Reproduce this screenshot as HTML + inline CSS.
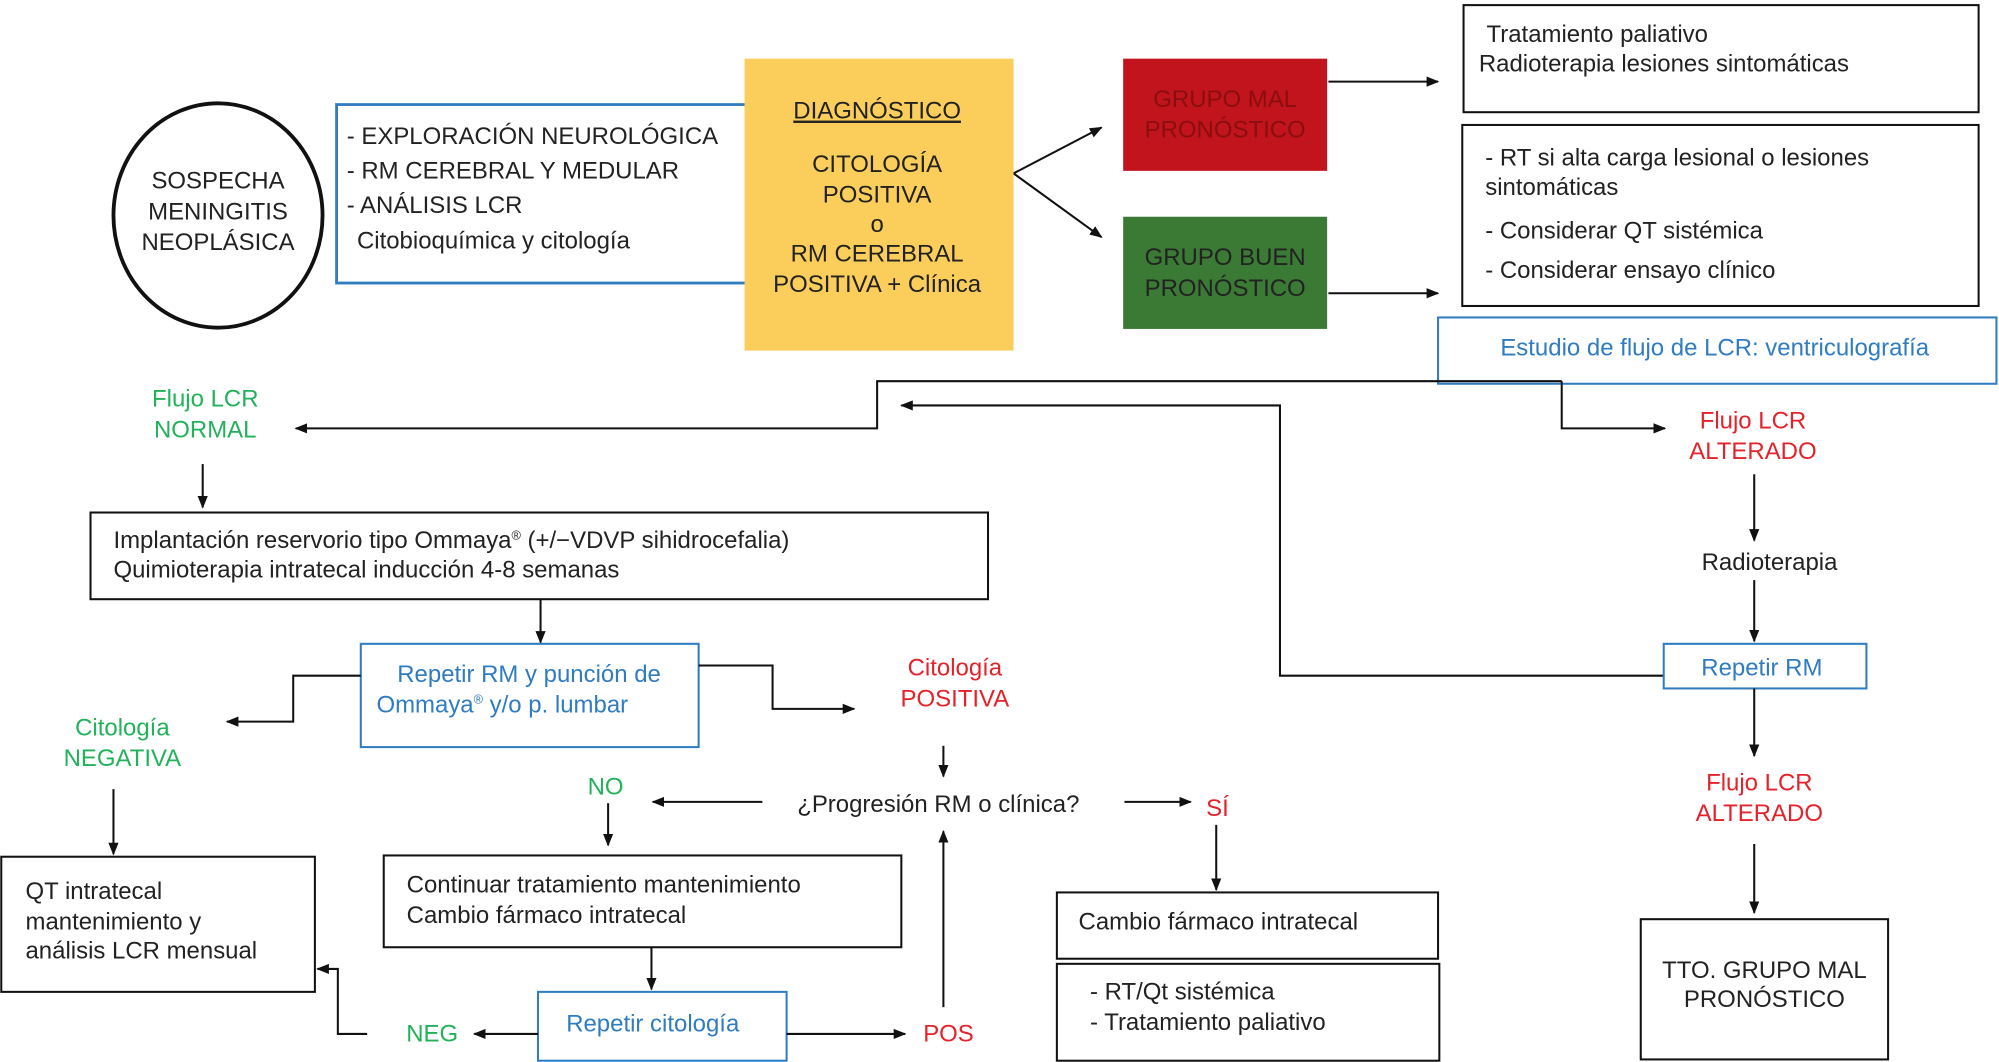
<!DOCTYPE html>
<html><head><meta charset="utf-8"><style>
html,body{margin:0;padding:0;background:#fff;}
svg{display:block;}
text{font-family:"Liberation Sans",sans-serif;font-size:18.8px;fill:#222;}
.b{fill:#2f7cc1}.g{fill:#22b25a}.r{fill:#e5222a}
</style></head><body>
<svg width="1999" height="1062" viewBox="0 0 1568 833" xmlns="http://www.w3.org/2000/svg">
<defs><marker id="a" markerWidth="10" markerHeight="10" refX="9" refY="5" orient="auto" markerUnits="userSpaceOnUse"><path d="M0,1 L10,5 L0,9 z" fill="#111"/></marker></defs>
<g fill="none" stroke="#111" stroke-width="1.6">
<ellipse cx="171" cy="169" rx="82" ry="88" stroke-width="3"/>
<rect x="264" y="82" width="322" height="140" stroke="#2f7cc1" stroke-width="2.2"/>
<rect x="1148" y="4" width="404" height="84"/>
<rect x="1147" y="98" width="405" height="142"/>
<rect x="1128" y="249" width="438" height="52" stroke="#2f7cc1"/>
<path d="M795,136 L864,100" marker-end="url(#a)"/>
<path d="M795,136 L864,186" marker-end="url(#a)"/>
<path d="M1042,64 L1128,64" marker-end="url(#a)"/>
<path d="M1042,230 L1128,230" marker-end="url(#a)"/>
<path d="M1225,299 L688,299 L688,336 L232,336" marker-end="url(#a)"/>
<path d="M1225,299 L1225,336 L1306,336" marker-end="url(#a)"/>
<path d="M1305,530 L1004,530 L1004,318 L707,318" marker-end="url(#a)"/>
<path d="M159,364 L159,398" marker-end="url(#a)"/>
<rect x="71" y="402" width="704" height="68"/>
<path d="M424,470 L424,504" marker-end="url(#a)"/>
<rect x="283" y="505" width="265" height="81" stroke="#2f7cc1"/>
<path d="M283,530 L230,530 L230,566 L178,566" marker-end="url(#a)"/>
<path d="M548,522 L606,522 L606,556 L670,556" marker-end="url(#a)"/>
<path d="M89,619 L89,670" marker-end="url(#a)"/>
<rect x="1" y="672" width="246" height="106"/>
<path d="M740,585 L740,609" marker-end="url(#a)"/>
<path d="M598,629 L512,629" marker-end="url(#a)"/>
<path d="M882,629 L934,629" marker-end="url(#a)"/>
<path d="M477,630 L477,663" marker-end="url(#a)"/>
<rect x="301" y="671" width="406" height="72"/>
<path d="M511,743 L511,776" marker-end="url(#a)"/>
<rect x="422" y="778" width="195" height="54" stroke="#2f7cc1"/>
<path d="M422,811 L372,811" marker-end="url(#a)"/>
<path d="M617,811 L710,811" marker-end="url(#a)"/>
<path d="M740,790 L740,652" marker-end="url(#a)"/>
<path d="M288,811 L265,811 L265,760 L249,760" marker-end="url(#a)"/>
<path d="M954,647 L954,698" marker-end="url(#a)"/>
<rect x="829" y="700" width="299" height="52"/>
<rect x="829" y="756" width="300" height="76"/>
<path d="M1376,372 L1376,424" marker-end="url(#a)"/>
<path d="M1376,455 L1376,503" marker-end="url(#a)"/>
<rect x="1305" y="505" width="159" height="35" stroke="#2f7cc1"/>
<path d="M1376,540 L1376,593" marker-end="url(#a)"/>
<path d="M1376,662 L1376,716" marker-end="url(#a)"/>
<rect x="1287" y="721" width="194" height="110"/>
</g>
<rect x="584" y="46" width="211" height="229" fill="#fbcd5a"/>
<rect x="881" y="46" width="160" height="88" fill="#c1141c"/>
<rect x="881" y="170" width="160" height="88" fill="#3a7a34"/>
<g text-anchor="middle">
<text x="171" y="148">SOSPECHA</text><text x="171" y="172">MENINGITIS</text><text x="171" y="196">NEOPLÁSICA</text>
<text x="688" y="93" text-decoration="underline">DIAGNÓSTICO</text>
<text x="688" y="135">CITOLOGÍA</text><text x="688" y="159">POSITIVA</text><text x="688" y="182">o</text>
<text x="688" y="205">RM CEREBRAL</text><text x="688" y="229">POSITIVA + Clínica</text>
<text x="961" y="84" style="fill:#8a0e10">GRUPO MAL</text><text x="961" y="108" style="fill:#8a0e10">PRONÓSTICO</text>
<text x="961" y="208">GRUPO BUEN</text><text x="961" y="232">PRONÓSTICO</text>
<text x="1345" y="279" class="b">Estudio de flujo de LCR: ventriculografía</text>
<text x="161" y="319" class="g">Flujo LCR</text><text x="161" y="343" class="g">NORMAL</text>
<text x="1375" y="336" class="r">Flujo LCR</text><text x="1375" y="360" class="r">ALTERADO</text>
<text x="1388" y="447">Radioterapia</text>
<text x="1382" y="530" class="b">Repetir RM</text>
<text x="1380" y="620" class="r">Flujo LCR</text><text x="1380" y="644" class="r">ALTERADO</text>
<text x="1384" y="767">TTO. GRUPO MAL</text><text x="1384" y="790">PRONÓSTICO</text>
<text x="415" y="535" class="b">Repetir RM y punción de</text>
<text x="394" y="559" class="b">Ommaya<tspan dy="-7" font-size="10">®</tspan><tspan dy="7"> y/o p. lumbar</tspan></text>
<text x="96" y="577" class="g">Citología</text><text x="96" y="601" class="g">NEGATIVA</text>
<text x="749" y="530" class="r">Citología</text><text x="749" y="554" class="r">POSITIVA</text>
<text x="475" y="623" class="g">NO</text>
<text x="736" y="637">¿Progresión RM o clínica?</text>
<text x="955" y="640" class="r">SÍ</text>
<text x="512" y="809" class="b">Repetir citología</text>
<text x="339" y="817" class="g">NEG</text>
<text x="744" y="817" class="r">POS</text>
</g>
<text x="272" y="113">- EXPLORACIÓN NEUROLÓGICA</text>
<text x="272" y="140">- RM CEREBRAL Y MEDULAR</text>
<text x="272" y="167">- ANÁLISIS LCR</text>
<text x="280" y="195">Citobioquímica y citología</text>
<text x="1166" y="33">Tratamiento paliativo</text>
<text x="1160" y="56">Radioterapia lesiones sintomáticas</text>
<text x="1165" y="130">- RT si alta carga lesional o lesiones</text>
<text x="1165" y="153">sintomáticas</text>
<text x="1165" y="187">- Considerar QT sistémica</text>
<text x="1165" y="218">- Considerar ensayo clínico</text>
<text x="89" y="430">Implantación reservorio tipo Ommaya<tspan dy="-7" font-size="10">®</tspan><tspan dy="7"> (+/−VDVP sihidrocefalia)</tspan></text>
<text x="89" y="453">Quimioterapia intratecal inducción 4-8 semanas</text>
<text x="20" y="705">QT intratecal</text><text x="20" y="729">mantenimiento y</text><text x="20" y="752">análisis LCR mensual</text>
<text x="319" y="700">Continuar tratamiento mantenimiento</text>
<text x="319" y="724">Cambio fármaco intratecal</text>
<text x="846" y="729">Cambio fármaco intratecal</text>
<text x="855" y="784">- RT/Qt sistémica</text>
<text x="855" y="808">- Tratamiento paliativo</text>
</svg>
</body></html>
